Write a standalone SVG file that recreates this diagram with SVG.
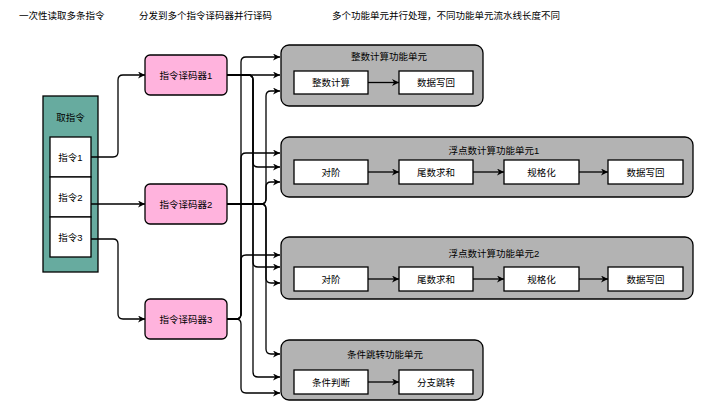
<svg xmlns="http://www.w3.org/2000/svg" width="711" height="408" viewBox="0 0 711 408">
<defs>
<marker id="arr" viewBox="0 0 10 10" refX="10" refY="5" markerWidth="7" markerHeight="7" markerUnits="userSpaceOnUse" orient="auto">
<path d="M0,0 L10,5 L0,10 L3,5 Z" fill="#000"/>
</marker>
<style>
text{font-family:"Liberation Sans","Noto Sans CJK SC",sans-serif;font-size:9.5px;fill:#000;text-anchor:middle;dominant-baseline:central}
.hdr{text-anchor:start}
.fetch{fill:#67AB9F;stroke:#000;stroke-width:1.3}
.ins{fill:#fff;stroke:#000;stroke-width:1.3}
.dec{fill:#FFB3DD;stroke:#000;stroke-width:1.3}
.unit{fill:#B3B3B3;stroke:#000;stroke-width:1.3}
.box{fill:#fff;stroke:#000;stroke-width:1.3}
.c{fill:none;stroke:#000;stroke-width:1.3;marker-end:url(#arr)}
</style>
</defs>
<g id="headers">
<text class="hdr" x="19" y="15">一次性读取多条指令</text>
<text class="hdr" x="139" y="15">分发到多个指令译码器并行译码</text>
<text class="hdr" x="332" y="15">多个功能单元并行处理，不同功能单元流水线长度不同</text>
</g>
<g id="fetch">
<rect class="fetch" x="43" y="96" width="55" height="176"/>
<text x="70.5" y="117">取指令</text>
</g>
<g id="ins1"><rect class="ins" x="50" y="137" width="41" height="40"/><text x="70.5" y="157">指令1</text></g>
<g id="ins2"><rect class="ins" x="50" y="177" width="41" height="40"/><text x="70.5" y="197">指令2</text></g>
<g id="ins3"><rect class="ins" x="50" y="217" width="41" height="40"/><text x="70.5" y="237">指令3</text></g>
<g id="dec1"><rect class="dec" x="145" y="55" width="82" height="40" rx="5"/><text x="186" y="75">指令译码器1</text></g>
<g id="dec2"><rect class="dec" x="145" y="184" width="82" height="40" rx="5"/><text x="186" y="204">指令译码器2</text></g>
<g id="dec3"><rect class="dec" x="145" y="299" width="82" height="40" rx="5"/><text x="186" y="319">指令译码器3</text></g>
<g id="unit-int">
<rect class="unit" x="281" y="45" width="202" height="61" rx="8"/>
<text x="389" y="56">整数计算功能单元</text>
<rect class="box" x="294" y="71" width="74" height="23"/><text x="331" y="82.5">整数计算</text>
<rect class="box" x="399" y="71" width="74" height="23"/><text x="436" y="82.5">数据写回</text>
</g>
<g id="unit-fp1">
<rect class="unit" x="281" y="137" width="412" height="60" rx="8"/>
<text x="494" y="150">浮点数计算功能单元1</text>
<rect class="box" x="294" y="160" width="74" height="24"/><text x="331" y="172">对阶</text>
<rect class="box" x="399" y="160" width="74" height="24"/><text x="436" y="172">尾数求和</text>
<rect class="box" x="504" y="160" width="75" height="24"/><text x="541.5" y="172">规格化</text>
<rect class="box" x="608" y="160" width="75" height="24"/><text x="645.5" y="172">数据写回</text>
</g>
<g id="unit-fp2">
<rect class="unit" x="281" y="237" width="412" height="62" rx="8"/>
<text x="494" y="253">浮点数计算功能单元2</text>
<rect class="box" x="294" y="267" width="74" height="24"/><text x="331" y="279">对阶</text>
<rect class="box" x="399" y="267" width="74" height="24"/><text x="436" y="279">尾数求和</text>
<rect class="box" x="504" y="267" width="75" height="24"/><text x="541.5" y="279">规格化</text>
<rect class="box" x="608" y="267" width="75" height="24"/><text x="645.5" y="279">数据写回</text>
</g>
<g id="unit-br">
<rect class="unit" x="281" y="340" width="202" height="60" rx="8"/>
<text x="385" y="354">条件跳转功能单元</text>
<rect class="box" x="294" y="370" width="74" height="24"/><text x="331" y="382">条件判断</text>
<rect class="box" x="399" y="370" width="74" height="24"/><text x="436" y="382">分支跳转</text>
</g>
<g id="connectors">
<path class="c" d="M91,157 H113 Q118,157 118,152 V80 Q118,75 123,75 H145"/>
<path class="c" d="M91,204 H145"/>
<path class="c" d="M91,239 H113 Q118,239 118,244 V314 Q118,319 123,319 H145"/>
<path class="c" d="M227,75 H280"/>
<path class="c" d="M227,75 H248 Q253,75 253,80 V162 Q253,167 258,167 H280"/>
<path class="c" d="M227,75 H248 Q253,75 253,80 V262 Q253,267 258,267 H280"/>
<path class="c" d="M227,75 H248 Q253,75 253,80 V372 Q253,377 258,377 H280"/>
<path class="c" d="M227,204 H261 Q266,204 266,199 V96 Q266,91 271,91 H280"/>
<path class="c" d="M227,204 H261 Q266,204 266,199 V187 Q266,182 271,182 H280"/>
<path class="c" d="M227,204 H261 Q266,204 266,209 V278 Q266,283 271,283 H280"/>
<path class="c" d="M227,204 H261 Q266,204 266,209 V349 Q266,354 271,354 H280"/>
<path class="c" d="M227,319 H236 Q241,319 241,314 V62 Q241,57 246,57 H280"/>
<path class="c" d="M227,319 H236 Q241,319 241,314 V158 Q241,153 246,153 H280"/>
<path class="c" d="M227,319 H236 Q241,319 241,314 V260 Q241,255 246,255 H280"/>
<path class="c" d="M227,319 H236 Q241,319 241,324 V388 Q241,393 246,393 H280"/>
<path class="c" d="M368,82.5 H399"/>
<path class="c" d="M368,172 H399"/>
<path class="c" d="M473,172 H504"/>
<path class="c" d="M579,172 H608"/>
<path class="c" d="M368,279 H399"/>
<path class="c" d="M473,279 H504"/>
<path class="c" d="M579,279 H608"/>
<path class="c" d="M368,382 H399"/>
</g>
</svg>
